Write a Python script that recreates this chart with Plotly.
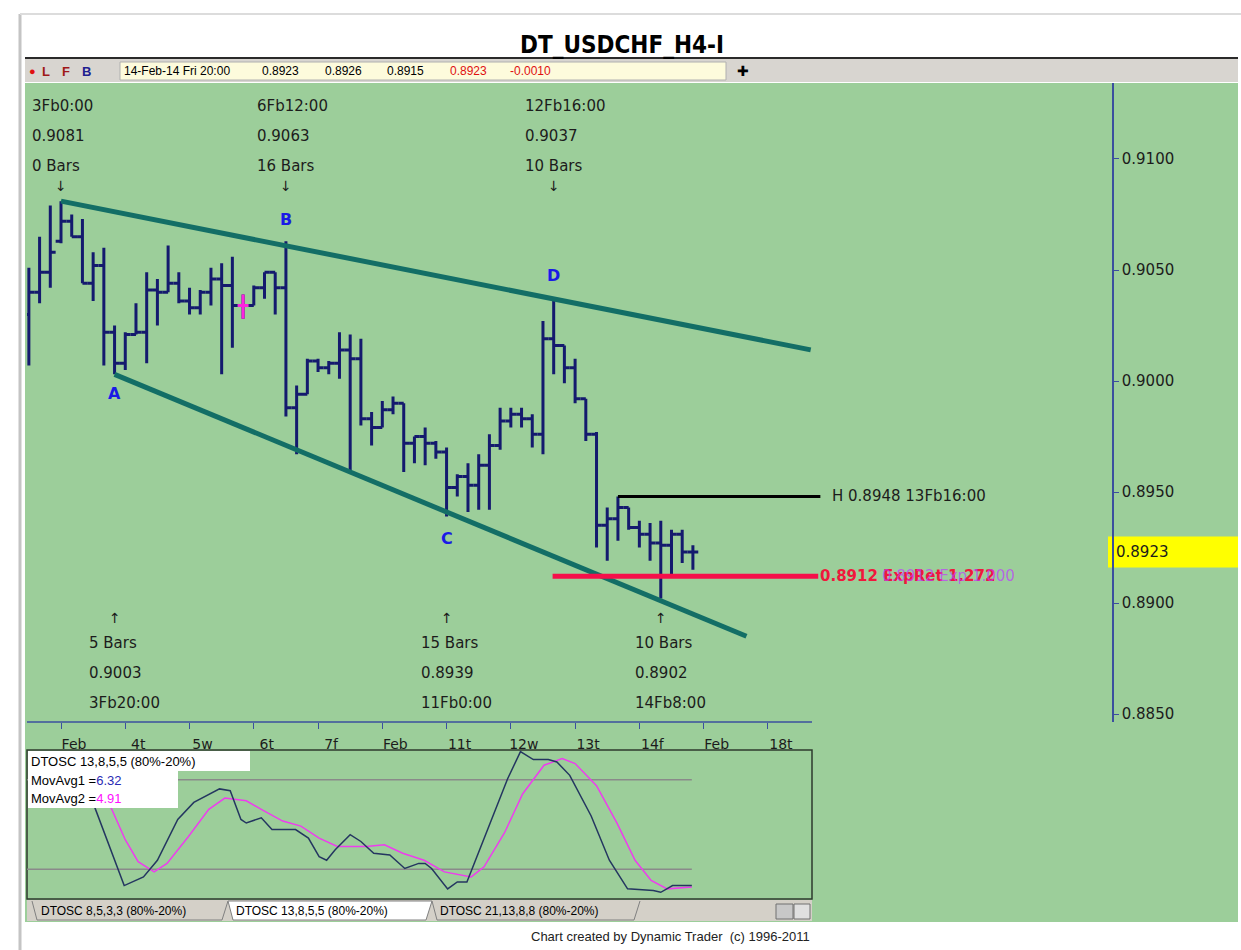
import plotly.graph_objects as go

W, H = 1241, 950

# H4 bars, index 0 = 3 Feb 0:00 (weekend gap removed)
bar_x = list(range(-3, 60))
bar_open = [0.9030, 0.9040, 0.9049, 0.9063, 0.9072, 0.9065, 0.9044, 0.9052, 0.9022, 0.9008, 0.9021,
            0.9022, 0.9041, 0.9040, 0.9044, 0.9036, 0.9033, 0.9040, 0.9046, 0.9043, 0.9034, 0.9034,
            0.9042, 0.9049, 0.9042, 0.8988, 0.8994, 0.9009, 0.9006, 0.9008, 0.9014, 0.9010, 0.8983,
            0.8979, 0.8987, 0.8990, 0.8972, 0.8975, 0.8972, 0.8968, 0.8952, 0.8957, 0.8953, 0.8962,
            0.8971, 0.8982, 0.8985, 0.8983, 0.8976, 0.9019, 0.9016, 0.9006, 0.8992, 0.8976, 0.8935,
            0.8938, 0.8943, 0.8934, 0.8931, 0.8927, 0.8926, 0.8931, 0.8923]
bar_high = [0.9051, 0.9065, 0.9079, 0.9081, 0.9075, 0.9073, 0.9058, 0.9060, 0.9025, 0.9022, 0.9035,
            0.9049, 0.9046, 0.9061, 0.9049, 0.9042, 0.9041, 0.9051, 0.9053, 0.9056, 0.9039, 0.9043,
            0.9049, 0.9049, 0.9063, 0.8998, 0.9010, 0.9010, 0.9009, 0.9022, 0.9021, 0.9019, 0.8986,
            0.8991, 0.8993, 0.8990, 0.8975, 0.8979, 0.8973, 0.8970, 0.8958, 0.8963, 0.8967, 0.8976,
            0.8988, 0.8988, 0.8988, 0.8985, 0.9027, 0.9037, 0.9016, 0.9010, 0.8992, 0.8977, 0.8943,
            0.8948, 0.8943, 0.8937, 0.8936, 0.8937, 0.8933, 0.8933, 0.8926]
bar_low = [0.9007, 0.9035, 0.9042, 0.9062, 0.9065, 0.9044, 0.9036, 0.9007, 0.9003, 0.9005, 0.9021,
           0.9008, 0.9025, 0.9040, 0.9035, 0.9030, 0.9030, 0.9034, 0.9003, 0.9015, 0.9028, 0.9034,
           0.9037, 0.9030, 0.8984, 0.8967, 0.8994, 0.9004, 0.9003, 0.9001, 0.8959, 0.8980, 0.8971,
           0.8979, 0.8985, 0.8959, 0.8963, 0.8962, 0.8965, 0.8939, 0.8948, 0.8941, 0.8942, 0.8942,
           0.8969, 0.8979, 0.8979, 0.8970, 0.8967, 0.9003, 0.8999, 0.8990, 0.8973, 0.8925, 0.8919,
           0.8928, 0.8933, 0.8925, 0.8919, 0.8902, 0.8912, 0.8918, 0.8915]
bar_close = [0.9040, 0.9049, 0.9058, 0.9072, 0.9065, 0.9044, 0.9052, 0.9022, 0.9008, 0.9021, 0.9022,
             0.9041, 0.9040, 0.9044, 0.9036, 0.9033, 0.9040, 0.9046, 0.9043, 0.9034, 0.9034, 0.9042,
             0.9049, 0.9042, 0.8988, 0.8994, 0.9009, 0.9006, 0.9008, 0.9014, 0.9010, 0.8983, 0.8979,
             0.8987, 0.8990, 0.8972, 0.8975, 0.8972, 0.8968, 0.8952, 0.8957, 0.8953, 0.8962, 0.8971,
             0.8982, 0.8985, 0.8983, 0.8976, 0.9019, 0.9016, 0.9006, 0.8992, 0.8976, 0.8935, 0.8938,
             0.8943, 0.8934, 0.8931, 0.8927, 0.8926, 0.8931, 0.8923, 0.8923]
marked_bar = 17  # bar drawn in magenta

day_ticks = [0, 6, 12, 18, 24, 30, 36, 42, 48, 54, 60, 66]
day_labels = ["Feb", "4t", "5w", "6t", "7f", "Feb", "11t", "12w", "13t", "14f", "Feb", "18t"]
price_ticks = [0.8850, 0.8900, 0.8950, 0.9000, 0.9050, 0.9100]

# channel lines and levels
upper_x, upper_y = [0, 70], [0.9081, 0.9014]
lower_x, lower_y = [5, 64], [0.9003, 0.8885]
high_x, high_level = [52, 70.9], 0.8948
ret_x, ret_level = [45.9, 70.7], 0.8912
last_price = 0.8923

# pivots: bar, then the three text rows
top_pivots = [(0, "3Fb0:00", "0.9081", "0 Bars"), (21, "6Fb12:00", "0.9063", "16 Bars"),
              (46, "12Fb16:00", "0.9037", "10 Bars")]
bottom_pivots = [(5, "5 Bars", "0.9003", "3Fb20:00"), (36, "15 Bars", "0.8939", "11Fb0:00"),
                 (56, "10 Bars", "0.8902", "14Fb8:00")]
letters = [("A", 5, 0.9003, -19), ("B", 21, 0.9063, 22), ("C", 36, 0.8939, -22), ("D", 46, 0.9037, 23)]

# DTOSC 13,8,5,5
fast_x = [1.5, 3.1, 5.9, 7.7, 9.0, 10.9, 12.4, 13.6, 14.8, 15.8, 16.8, 17.3, 18.7, 19.7, 21.9, 23.1, 24.1,
          24.8, 25.6, 27.0, 28.0, 29.2, 30.7, 32.1, 33.4, 34.0, 34.6, 36.1, 37.0, 37.9, 40.2, 41.7,
          42.9, 44.1, 45.5, 46.3, 47.5, 49.5, 51.2, 52.9, 55.3, 56.0, 57.1, 58.9]
fast_y = [88, 62.5, 9, 14.8, 26, 53.4, 64.8, 69.3, 73.9, 72.7, 53.4, 51, 54.5, 46.6, 46.6, 40.9, 28.4,
          26, 33, 43.2, 38.6, 30.7, 29.5, 20.5, 23.9, 23.9, 20.5, 6.8, 11.4, 11.4, 53.4, 80.7,
          98.9, 93.6, 93.6, 92, 83, 55.7, 26, 6.8, 5.7, 4.5, 9, 9]
slow_x = [3.0, 4.6, 6.0, 7.2, 8.7, 9.9, 11.9, 13.8, 15.3, 17.3, 18.7, 20.7, 22.4, 24.1, 25.8, 28.5, 30.2,
          31.9, 33.9, 35.8, 38.3, 39.5, 41.4, 43.1, 45.1, 46.8, 48.0, 50.0, 51.9, 53.6, 55.1, 56.6, 58.9]
slow_y = [85, 62.5, 39.8, 25, 18.2, 23.9, 42, 60.2, 67.7, 65.9, 60.2, 52.3, 48.9, 40.9, 35.2, 35.2, 36.4,
          30.7, 26, 18.2, 14.8, 21.6, 44.3, 70.5, 89.8, 94.3, 90.9, 76.1, 51.1, 26, 12.5, 6.8, 8]
osc_levels = [80, 20]

GREEN = "#9CCE9A"
NAVY = "#141a6e"
TEAL = "#136e66"
AXIS_BLUE = "#3b4f9e"
HAND = "Comic Sans MS, DejaVu Sans, sans-serif"
UI = "Tahoma, Liberation Sans, Arial, sans-serif"


def X(px):
    return px / W


def Y(py):
    return 1 - py / H


def rect(x0, y0, x1, y1, fill=None, line_color=None, line_width=0, layer="below"):
    return dict(type="rect", xref="paper", yref="paper", x0=X(x0), x1=X(x1), y0=Y(y1), y1=Y(y0),
                fillcolor=fill, line=dict(color=line_color, width=line_width), layer=layer)


def hline(x0, x1, y, color, width, layer="below"):
    return dict(type="line", xref="paper", yref="paper", x0=X(x0), x1=X(x1), y0=Y(y), y1=Y(y),
                line=dict(color=color, width=width), layer=layer)


def tab(x0, x1, fill=None):
    path = (f"M {X(x0)},{Y(901)} L {X(x0 + 5)},{Y(920)} L {X(x1 - 6)},{Y(920)} "
            f"L {X(x1)},{Y(901)}" + (" Z" if fill else ""))
    return dict(type="path", xref="paper", yref="paper", path=path, fillcolor=fill,
                line=dict(color="#808080", width=1), layer="above")


fig = go.Figure()

fig.add_trace(go.Ohlc(
    x=bar_x, open=bar_open, high=bar_high, low=bar_low, close=bar_close,
    increasing=dict(line=dict(color=NAVY, width=3)),
    decreasing=dict(line=dict(color=NAVY, width=3)),
    tickwidth=0.5, showlegend=False, hoverinfo="skip",
))
m = bar_x.index(marked_bar)
fig.add_trace(go.Ohlc(
    x=[bar_x[m]], open=[bar_open[m]], high=[bar_high[m]], low=[bar_low[m]], close=[bar_close[m]],
    increasing=dict(line=dict(color="#ff22dd", width=3)),
    decreasing=dict(line=dict(color="#ff22dd", width=3)),
    tickwidth=0.5, showlegend=False, hoverinfo="skip",
))

fig.add_trace(go.Scatter(x=upper_x, y=upper_y, mode="lines", line=dict(color=TEAL, width=5), showlegend=False))
fig.add_trace(go.Scatter(x=lower_x, y=lower_y, mode="lines", line=dict(color=TEAL, width=5), showlegend=False))
fig.add_trace(go.Scatter(x=high_x, y=[high_level] * 2, mode="lines", line=dict(color="black", width=3), showlegend=False))
fig.add_trace(go.Scatter(x=ret_x, y=[ret_level] * 2, mode="lines", line=dict(color="#f5104a", width=5), showlegend=False))

# oscillator
for lv in osc_levels:
    fig.add_trace(go.Scatter(x=[-3.2, 58.9], y=[lv, lv], mode="lines", line=dict(color="#8a8a8a", width=1.5),
                             xaxis="x2", yaxis="y2", showlegend=False))
fig.add_trace(go.Scatter(x=slow_x, y=slow_y, mode="lines", line=dict(color="#ee3cee", width=1.5),
                         xaxis="x2", yaxis="y2", showlegend=False))
fig.add_trace(go.Scatter(x=fast_x, y=fast_y, mode="lines", line=dict(color="#243660", width=1.5),
                         xaxis="x2", yaxis="y2", showlegend=False))

shapes = [
    # page frame
    dict(type="line", xref="paper", yref="paper", x0=X(20), x1=X(20), y0=Y(14), y1=0,
         line=dict(color="#c4c4c4", width=3), layer="below"),
    hline(20, 1241, 14, "#dcdcdc", 2),
    # chart background
    rect(25, 83, 1238, 922, fill=GREEN),
    # header bar
    rect(25, 59, 1238, 82, fill="#d8d5d0"),
    hline(25, 1238, 58, "#2a2a2a", 2),
    rect(120, 62, 726, 80, fill="#fdfbdc", line_color="#b0b0b0", line_width=1),
    # date axis line
    hline(27, 812, 722, AXIS_BLUE, 1.5),
    # oscillator box
    rect(27, 750, 812, 899, line_color="#2e3a2e", line_width=1.5),
    # oscillator legend
    rect(28, 751, 250, 771, fill="white", layer="above"),
    rect(28, 771, 178, 808, fill="white", layer="above"),
    # tab strip
    rect(27, 900, 812, 921, fill="#d4d0c8"),
    tab(32, 228),
    tab(228, 432, fill="white"),
    tab(432, 640),
    rect(776, 904, 793, 919, fill="#c8c8c8", line_color="#707070", line_width=1, layer="above"),
    rect(794, 904, 810, 919, fill="#e0e0e0", line_color="#707070", line_width=1, layer="above"),
    # last price box
    dict(type="rect", xref="paper", yref="y", x0=X(1108), x1=X(1238), y0=last_price - 0.0007,
         y1=last_price + 0.0007, fillcolor="#ffff00", line_width=0, layer="below"),
]

ann = []


def note(x, y, text, size=15, color="#1c1c1c", family=HAND, xref="paper", yref="paper", anchor="left", **kw):
    ann.append(dict(x=x, y=y, xref=xref, yref=yref, text=text, showarrow=False, xanchor=anchor,
                    yanchor="middle", font=dict(family=family, size=size, color=color), **kw))


note(X(622), Y(45), "<b>DT_USDCHF_H4-I</b>", size=24, color="black",
     family="Liberation Sans Narrow, DejaVu Sans Condensed, sans-serif", anchor="center")
note(X(27), Y(71), "●", size=11, color="#e01010", family=UI)
note(X(40), Y(71), "<b>L</b>", size=13, color="#a01818", family=UI)
note(X(60), Y(71), "<b>F</b>", size=13, color="#a01818", family=UI)
note(X(80), Y(71), "<b>B</b>", size=13, color="#202090", family=UI)
for px, txt, col in [(122, "14-Feb-14 Fri 20:00", "black"), (260, "0.8923", "black"), (323, "0.8926", "black"),
                     (385, "0.8915", "black"), (448, "0.8923", "#e01010"), (508, "-0.0010", "#e01010")]:
    note(X(px), Y(71), txt, size=12, color=col, family=UI)
note(X(743), Y(71), "<b>✚</b>", size=14, color="black", family="DejaVu Sans", anchor="center")

for bx, t1, t2, t3 in top_pivots:
    for py, t in zip([106, 136, 166], [t1, t2, t3]):
        note(bx, Y(py), t, xref="x", xshift=-31)
    note(bx, Y(186), "↓", size=14, xref="x", anchor="center", family="DejaVu Sans")
for bx, t1, t2, t3 in bottom_pivots:
    note(bx, Y(618), "↑", size=14, xref="x", anchor="center", family="DejaVu Sans")
    for py, t in zip([643, 673, 703], [t1, t2, t3]):
        note(bx, Y(py), t, xref="x", xshift=-28)
for lab, bx, price, dy in letters:
    note(bx, price, f"<b>{lab}</b>", size=16, color="#1a1ae6", family="DejaVu Sans", xref="x", yref="y",
         anchor="center", yshift=dy)

note(X(830), high_level, f"H {high_level:.4f} 13Fb16:00", size=15, yref="y")
note(X(818), ret_level, f"<b>{ret_level:.4f} ExpRet 1.272</b>", size=15, color="#f0183c", yref="y")
note(X(818), ret_level, f"{ret_level:.4f} Exp 1.000", size=15, color="rgba(190,60,255,0.7)", yref="y",
     xshift=62)
note(X(1114), last_price, f"{last_price:.4f}", size=15, yref="y")

note(X(29), Y(761), "DTOSC 13,8,5,5 (80%-20%)", size=13, color="black", family=UI)
note(X(29), Y(780), "MovAvg1 =<span style='color:#2a2ab4'>6.32</span>", size=13, color="black", family=UI)
note(X(29), Y(798), "MovAvg2 =<span style='color:#ff10ff'>4.91</span>", size=13, color="black", family=UI)
for px, txt in [(39, "DTOSC 8,5,3,3 (80%-20%)"), (234, "DTOSC 13,8,5,5 (80%-20%)"),
                (438, "DTOSC 21,13,8,8 (80%-20%)")]:
    note(X(px), Y(911), txt, size=12, color="black", family=UI)
note(X(812), Y(936), "Chart created by Dynamic Trader  (c) 1996-2011", size=13, color="#222", family=UI,
     anchor="right")

fig.update_layout(
    width=W, height=H,
    margin=dict(l=0, r=0, t=0, b=0),
    paper_bgcolor="white",
    plot_bgcolor="rgba(0,0,0,0)",
    showlegend=False,
    hovermode=False,
    shapes=shapes,
    annotations=ann,
    xaxis=dict(
        domain=[X(27), X(1112)], range=[-3.175, 98.13],
        tickmode="array", tickvals=day_ticks, ticktext=day_labels,
        ticks="outside", ticklen=6, tickcolor=AXIS_BLUE, ticklabelshift=13, ticklabelstandoff=3,
        tickfont=dict(family=HAND, size=14, color="#1c1c1c"),
        showline=False, showgrid=False, zeroline=False, rangeslider=dict(visible=False),
    ),
    yaxis=dict(
        domain=[Y(722), Y(83)], range=[0.88464, 0.913423], side="right",
        tickmode="array", tickvals=price_ticks, ticktext=[f"{v:.4f}" for v in price_ticks],
        ticks="outside", ticklen=5, tickcolor=AXIS_BLUE,
        tickfont=dict(family=HAND, size=15, color="#1c1c1c"),
        showline=True, linecolor=AXIS_BLUE, linewidth=1.5, showgrid=False, zeroline=False,
    ),
    xaxis2=dict(domain=[X(27), X(812)], range=[-3.175, 70.12], anchor="y2", visible=False),
    yaxis2=dict(domain=[Y(899), Y(750)], range=[0, 100], anchor="x2", visible=False),
)

fig.write_html("out.html", config={"displayModeBar": False},
               post_script="document.body.style.margin='0';")
